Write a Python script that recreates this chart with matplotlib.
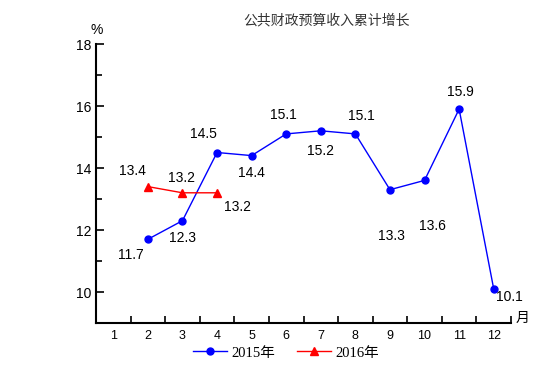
import matplotlib
matplotlib.use("Agg")
from matplotlib import pyplot as plt
from matplotlib.ticker import MultipleLocator

plt.rcParams["font.family"] = ["Liberation Sans", "Noto Sans CJK SC", "DejaVu Sans"]

months = [1, 2, 3, 4, 5, 6, 7, 8, 9, 10, 11, 12]
m2015 = [2, 3, 4, 5, 6, 7, 8, 9, 10, 11, 12]
v2015 = [11.7, 12.3, 14.5, 14.4, 15.1, 15.2, 15.1, 13.3, 13.6, 15.9, 10.1]
m2016 = [2, 3, 4]
v2016 = [13.4, 13.2, 13.2]

# label offsets in pixels (dx, dy)
off2015 = [(-17, -16), (0, -17), (-14, 19), (0, -17), (-3, 19), (0, -20),
           (6, 18), (1, -46), (8, -46), (1, 17), (16, -8)]
off2016 = [(-15, 16), (-1, 15), (20, -14)]

fig = plt.figure(figsize=(5.54, 3.92), dpi=100)
ax = fig.add_axes([96 / 554, 1 - 323 / 392, (511 - 96) / 554, (323 - 44) / 392])

ax.plot(m2015, v2015, "-o", color="b", lw=1, ms=5, label="2015年")
ax.plot(m2016, v2016, "-^", color="r", lw=1, ms=5.5, label="2016年")

for x, y, (dx, dy) in zip(m2015, v2015, off2015):
    ax.annotate(f"{y:.1f}", (x, y), xytext=(dx, dy), textcoords="offset pixels",
                ha="center", va="center", fontsize=10)
for x, y, (dx, dy) in zip(m2016, v2016, off2016):
    ax.annotate(f"{y:.1f}", (x, y), xytext=(dx, dy), textcoords="offset pixels",
                ha="center", va="center", fontsize=10)

ax.set_xlim(0.5, 12.5)
ax.set_ylim(9, 18)
ax.spines["top"].set_visible(False)
ax.spines["right"].set_visible(False)
ax.spines["left"].set_linewidth(1.5)
ax.spines["bottom"].set_linewidth(1.5)

ax.set_xticks(months)
ax.set_xticklabels([str(m) for m in months], fontsize=9)
ax.xaxis.set_minor_locator(MultipleLocator(1, offset=0.5))
ax.tick_params(axis="x", which="major", length=0, pad=5)
ax.tick_params(axis="x", which="minor", direction="in", length=5, width=1.2)
ax.set_yticks([10, 12, 14, 16, 18])
ax.yaxis.set_minor_locator(MultipleLocator(1))
ax.tick_params(axis="y", which="major", direction="in", length=6, width=1.2, labelsize=10)
ax.tick_params(axis="y", which="minor", direction="in", length=4, width=1.2)

fig.text(97 / 554, 1 - 30 / 392, "%", ha="center", va="center", fontsize=10)
fig.text(523 / 554, 1 - 318 / 392, "月", ha="center", va="center", fontsize=10,
         family="Noto Sans CJK SC")
fig.text(327 / 554, 1 - 20 / 392, "公共财政预算收入累计增长", ha="center", va="center",
         fontsize=10, family="Noto Sans CJK SC", color="#333333")

fig.legend(loc="center", bbox_to_anchor=(286 / 554, 1 - 353 / 392), ncol=2, frameon=False,
           prop={"family": ["Liberation Serif", "Noto Sans CJK SC"], "size": 10.5},
           handlelength=2.3, columnspacing=1.5, handletextpad=0.3)

fig.savefig("out.png", dpi=100)
